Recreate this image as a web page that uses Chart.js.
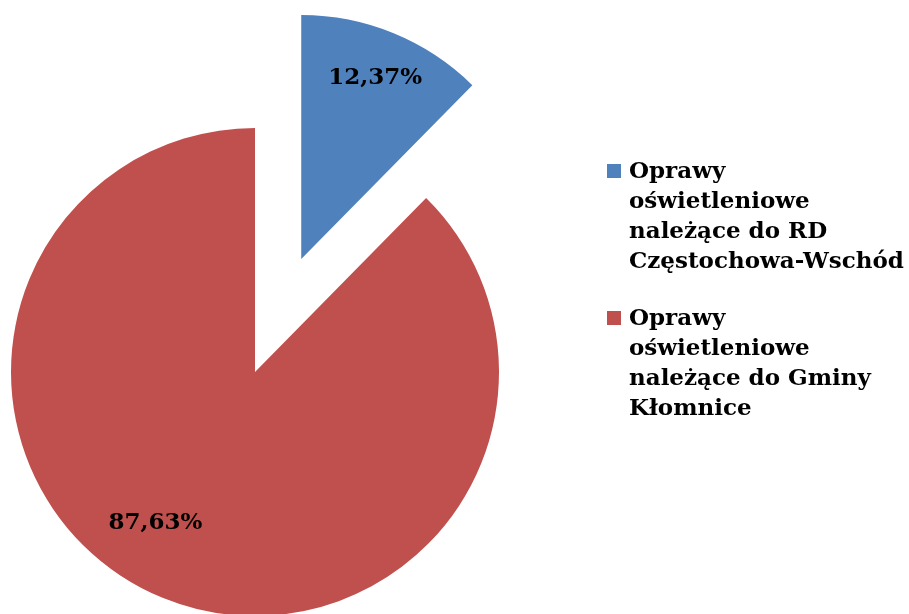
<!DOCTYPE html>
<html>
<head>
<meta charset="utf-8">
<script src="https://cdn.jsdelivr.net/npm/chart.js@4.4.0/dist/chart.umd.min.js"></script>
<style>
html, body { margin: 0; padding: 0; background: #fff; overflow: hidden; }
#wrap { position: absolute; left: 0; top: 0; width: 909px; height: 620px; }
</style>
</head>
<body>
<div id="wrap"><canvas id="wykres"></canvas></div>
<script>
// kategorie (w liniach, tak jak w legendzie)
const kategorie = [
    ["Oprawy", "oświetleniowe", "należące do RD", "Częstochowa-Wschód"],
    ["Oprawy", "oświetleniowe", "należące do Gminy", "Kłomnice"]
];
// udział procentowy
const udzialy = [12.37, 87.63];
const kolory = ["#4F81BD", "#C0504D"];

const wysuniecie = [122, 0];     // odsunięcie wycinka od środka (px)
const polozenieEtykiet = [0.8, 0.74];
const obrotEtykiet = [0, 0.195]; // korekta kąta etykiety (rad)
const czcionka = "bold 23px 'DejaVu Serif'";

// przesuwa wycinki na zewnątrz wzdłuż ich środkowego kąta
const wysunWycinki = {
    id: "wysunWycinki",
    afterUpdate(chart) {
        const luki = chart.getDatasetMeta(0).data;
        luki.forEach(function (luk, i) {
            const kat = (luk.startAngle + luk.endAngle) / 2;
            luk.x += Math.cos(kat) * wysuniecie[i];
            luk.y += Math.sin(kat) * wysuniecie[i];
        });
    }
};

// etykiety danych i legenda
const etykiety = {
    id: "etykiety",
    afterDatasetsDraw(chart) {
        const ctx = chart.ctx;
        const luki = chart.getDatasetMeta(0).data;
        ctx.save();
        ctx.font = czcionka;
        ctx.fillStyle = "#000";
        ctx.textAlign = "center";
        ctx.textBaseline = "middle";
        luki.forEach(function (luk, i) {
            const kat = (luk.startAngle + luk.endAngle) / 2 + obrotEtykiet[i];
            const r = luk.outerRadius * polozenieEtykiet[i];
            const tekst = udzialy[i].toFixed(2).replace(".", ",") + "%";
            ctx.fillText(tekst, luk.x + Math.cos(kat) * r, luk.y + Math.sin(kat) * r);
        });

        // legenda
        ctx.textAlign = "left";
        ctx.textBaseline = "alphabetic";
        let y = 178;
        kategorie.forEach(function (linie, i) {
            ctx.fillStyle = kolory[i];
            ctx.fillRect(607, y - 14, 14, 14);
            ctx.fillStyle = "#000";
            linie.forEach(function (linia, j) {
                ctx.fillText(linia, 629, y + j * 30);
            });
            y += linie.length * 30 + 27;
        });
        ctx.restore();
    }
};

document.addEventListener("DOMContentLoaded", function () {
    const kontekst = document.getElementById("wykres").getContext("2d");
    new Chart(kontekst, {
        type: "pie",
        data: {
            labels: kategorie,
            datasets: [{
                data: udzialy,
                backgroundColor: kolory,
                borderWidth: 0,
                hoverOffset: 0
            }]
        },
        options: {
            responsive: true,
            maintainAspectRatio: false,
            animation: false,
            layout: { padding: { left: 11, top: 128, right: 410, bottom: 4 } },
            plugins: {
                legend: { display: false },
                tooltip: { enabled: false }
            }
        },
        plugins: [wysunWycinki, etykiety]
    });
});
</script>
</body>
</html>
